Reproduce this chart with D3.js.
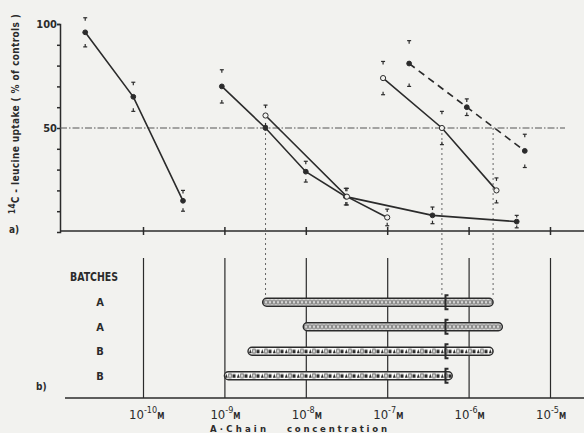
<!DOCTYPE html>
<html>
<head>
<meta charset="utf-8">
<script src="https://cdn.jsdelivr.net/npm/d3@7"></script>
<style>
  body { margin: 0; background: #f2f2ef; }
  svg { display: block; font-family: "DejaVu Sans Condensed", "Liberation Sans Narrow", "DejaVu Sans", sans-serif; font-weight: bold; }
</style>
</head>
<body>
<div id="chart"></div>
<script>
// a) 14C-leucine uptake (% of controls) vs A-chain concentration (M); e = error half-length
var seriesA = [
    { c: 1.95e-11, v: 96, e: 7 },
    { c: 7.6e-11, v: 65, e: 7 },
    { c: 3.1e-10, v: 15, e: 5 }
]
var seriesB = [
    { c: 9.3e-10, v: 70, e: 8 },
    { c: 3.2e-9, v: 50, e: 0 },
    { c: 1.0e-8, v: 29, e: 5 },
    { c: 3.1e-8, v: 17, e: 4 },
    { c: 3.6e-7, v: 8, e: 4 },
    { c: 3.9e-6, v: 5, e: 3 }
]
var seriesC = [
    { c: 3.2e-9, v: 56, e: 5 },
    { c: 3.2e-8, v: 17, e: 4 },
    { c: 1.0e-7, v: 7, e: 4 }
]
var seriesD = [
    { c: 8.9e-8, v: 74, e: 8 },
    { c: 4.7e-7, v: 50, e: 8 },
    { c: 2.2e-6, v: 20, e: 6 }
]
var seriesE = [
    { c: 1.86e-7, v: 81, e: 11 },
    { c: 9.5e-7, v: 60, e: 4 },
    { c: 4.9e-6, v: 39, e: 8 }
]

// 50% read-offs, dropped to the batch row they point at
var ic50 = [
    { c: 3.2e-9, row: 0 },
    { c: 4.7e-7, row: 0 },
    { c: 2.0e-6, row: 0 }
]

// b) active concentration ranges per batch
var batches = ["A", "A", "B", "B"]
var rangeLo = [2.95e-9, 9.3e-9, 1.95e-9, 1.0e-9]
var rangeHi = [2.0e-6, 2.6e-6, 2.0e-6, 6.3e-7]
var bracketAt = 5.2e-7

var decades = [1e-10, 1e-9, 1e-8, 1e-7, 1e-6, 1e-5]
var exps = [-10, -9, -8, -7, -6, -5]
var yTicks = [10, 20, 30, 40, 50, 60, 70, 80, 90, 100]

const ink = "#2b2b2b"

var svg = d3.select("#chart")
    .append("svg")
    .attr("width", 584)
    .attr("height", 433)

const x = d3.scaleLog().domain([1e-10, 1e-5]).range([143, 550])
const y = d3.scaleLinear().domain([0, 100]).range([232, 24])
const row = d3.scaleBand().domain(d3.range(batches.length)).range([290, 388])

// ---- panel a ----
// x axis of top panel
svg.append("line")
    .attr("x1", 60).attr("x2", 584)
    .attr("y1", 231).attr("y2", 231)
    .attr("stroke", ink).attr("stroke-width", 1.5)

var topAxis = svg.append("g")
    .attr("transform", "translate(0,231)")
    .call(d3.axisBottom(x).tickValues(decades).tickFormat("").tickSize(4))
topAxis.select(".domain").remove()
topAxis.selectAll(".tick line").attr("y1", -4).attr("stroke", ink).attr("stroke-width", 1.5)

var leftAxis = svg.append("g")
    .attr("transform", "translate(60,0)")
    .call(d3.axisLeft(y).tickValues(yTicks).tickSize(3)
        .tickFormat(d => (d == 50 || d == 100) ? d : ""))
leftAxis.select(".domain").attr("stroke", ink).attr("stroke-width", 1.5)
leftAxis.selectAll(".tick line").attr("stroke", ink).attr("stroke-width", 1.5)
leftAxis.selectAll("text")
    .attr("font-size", 11).attr("font-weight", "bold").attr("fill", ink)
    .attr("font-family", "DejaVu Sans Condensed, sans-serif").attr("x", -3)

// 50% reference line
svg.append("line")
    .attr("x1", 60).attr("x2", 565)
    .attr("y1", y(50)).attr("y2", y(50))
    .attr("stroke", "#555").attr("stroke-width", 1)
    .attr("stroke-dasharray", "7,2,1.5,2")

// dotted drop lines
svg.append("g")
    .selectAll("line")
    .data(ic50)
    .enter().append("line")
    .attr("x1", d => x(d.c)).attr("x2", d => x(d.c))
    .attr("y1", y(50))
    .attr("y2", d => row(d.row) + row.bandwidth() / 2 - 4)
    .attr("stroke", "#666").attr("stroke-width", 1)
    .attr("stroke-dasharray", "2,3")

const line = d3.line()
    .x(d => x(d.c))
    .y(d => y(d.v))

function drawSeries(data, open, dashed) {
    svg.append("path")
        .datum(data)
        .attr("fill", "none")
        .attr("stroke", ink)
        .attr("stroke-width", 1.6)
        .attr("stroke-dasharray", dashed ? "7,5" : null)
        .attr("d", line)

    var eb = svg.append("g")
        .selectAll("g")
        .data(data.filter(d => d.e > 0))
        .enter().append("g")
        .attr("stroke", ink).attr("stroke-width", 1.2)
    eb.append("line")
        .attr("x1", d => x(d.c)).attr("x2", d => x(d.c))
        .attr("y1", d => y(d.v + d.e)).attr("y2", d => Math.min(y(d.v) - 4, y(d.v + d.e) + 3))
    eb.append("line")
        .attr("x1", d => x(d.c)).attr("x2", d => x(d.c))
        .attr("y1", d => y(d.v - d.e)).attr("y2", d => Math.max(y(d.v) + 4, y(d.v - d.e) - 3))
    eb.append("line")
        .attr("x1", d => x(d.c) - 2).attr("x2", d => x(d.c) + 2)
        .attr("y1", d => y(d.v + d.e)).attr("y2", d => y(d.v + d.e))
    eb.append("line")
        .attr("x1", d => x(d.c) - 2).attr("x2", d => x(d.c) + 2)
        .attr("y1", d => y(d.v - d.e)).attr("y2", d => y(d.v - d.e))

    svg.append("g")
        .selectAll("circle")
        .data(data)
        .enter().append("circle")
        .attr("cx", d => x(d.c))
        .attr("cy", d => y(d.v))
        .attr("r", open ? 2.6 : 2.4)
        .attr("fill", open ? "#f2f2ef" : ink)
        .attr("stroke", ink).attr("stroke-width", 1)
}

drawSeries(seriesA, false, false)
drawSeries(seriesB, false, false)
drawSeries(seriesC, true, false)
drawSeries(seriesD, true, false)
drawSeries(seriesE, false, true)

// y title
svg.append("text")
    .attr("transform", "translate(19,114) rotate(-90)")
    .attr("text-anchor", "middle")
    .attr("font-size", 10)
    .attr("fill", ink)
    .attr("textLength", 200)
    .attr("lengthAdjust", "spacing")
    .call(t => {
        t.append("tspan").attr("font-size", 8).attr("dy", -4).text("14")
        t.append("tspan").attr("dy", 4).text("C - leucine uptake ( % of controls )")
    })

svg.append("text").attr("x", 9).attr("y", 233).attr("font-size", 10).attr("fill", ink).text("a)")

// ---- panel b ----
var grid = svg.append("g")
    .attr("transform", "translate(0,398)")
    .call(d3.axisBottom(x).tickValues(decades).tickFormat("").tickSize(-140))
grid.select(".domain").remove()
grid.selectAll(".tick line").attr("stroke", ink).attr("stroke-width", 1.2)

svg.append("line")
    .attr("x1", 65).attr("x2", 584)
    .attr("y1", 398).attr("y2", 398)
    .attr("stroke", ink).attr("stroke-width", 1.6)

var labels = svg.append("g")
    .selectAll("text")
    .data(exps)
    .enter().append("text")
    .attr("x", (d, i) => x(decades[i]) - 14)
    .attr("y", 419)
    .attr("fill", ink)
    .attr("font-weight", "normal")
    .attr("font-size", 13)
labels.append("tspan").text("10")
labels.append("tspan").attr("font-size", 9).attr("dy", -6).text(d => "-" + Math.abs(d))
labels.append("tspan").attr("font-size", 8).attr("font-weight", "bold").attr("dy", 6).text("M")

svg.append("text").attr("x", 210).attr("y", 432).attr("font-size", 9.5).attr("fill", ink)
    .attr("textLength", 56).attr("lengthAdjust", "spacing").text("A·Chain")
svg.append("text").attr("x", 287).attr("y", 432).attr("font-size", 9.5).attr("fill", ink)
    .attr("textLength", 100).attr("lengthAdjust", "spacing").text("concentration")

svg.append("text").attr("x", 70).attr("y", 281).attr("font-size", 12).attr("fill", ink)
    .attr("textLength", 48).attr("lengthAdjust", "spacingAndGlyphs").text("BATCHES")

svg.append("text").attr("x", 36).attr("y", 390).attr("font-size", 10).attr("fill", ink).text("b)")

svg.append("g")
    .selectAll("text")
    .data(batches)
    .enter().append("text")
    .attr("x", 100)
    .attr("y", (d, i) => row(i) + row.bandwidth() / 2 + 4)
    .attr("text-anchor", "middle")
    .attr("font-size", 11)
    .attr("fill", ink)
    .text(d => d)

// bar fill patterns, one per row so the tiles line up with the bar
var defs = svg.append("defs")
batches.forEach(function (b, i) {
    var top = row(i) + row.bandwidth() / 2 - 4
    var p = defs.append("pattern")
        .attr("id", "pat" + i)
        .attr("patternUnits", "userSpaceOnUse")
        .attr("x", 0).attr("y", top)
        .attr("width", b == "A" ? 4 : 12).attr("height", 8)
    p.append("rect").attr("width", 12).attr("height", 8).attr("fill", "#fafaf8")
    if (b == "A") {
        p.append("rect").attr("x", 0.8).attr("y", 2).attr("width", 2.4).attr("height", 4)
            .attr("fill", "none").attr("stroke", "#444").attr("stroke-width", 0.8)
    } else {
        p.append("rect").attr("x", 0.8).attr("y", 2).attr("width", 2.4).attr("height", 4)
            .attr("fill", "none").attr("stroke", "#444").attr("stroke-width", 0.8)
        p.append("rect").attr("x", 4.5).attr("y", 2.5).attr("width", 3).attr("height", 3.5).attr("fill", ink)
        p.append("path").attr("d", "M8.8,6 L10.3,2 L11.8,6 Z").attr("fill", ink)
    }
})

svg.append("g")
    .selectAll("rect")
    .data(batches)
    .enter().append("rect")
    .attr("x", (d, i) => x(rangeLo[i]))
    .attr("y", (d, i) => row(i) + row.bandwidth() / 2 - 4)
    .attr("width", (d, i) => x(rangeHi[i]) - x(rangeLo[i]))
    .attr("height", 8)
    .attr("rx", 4)
    .attr("fill", (d, i) => "url(#pat" + i + ")")
    .attr("stroke", ink)
    .attr("stroke-width", 1.4)

// "[" marks at the common 50% point
svg.append("g")
    .selectAll("path")
    .data(batches)
    .enter().append("path")
    .attr("d", (d, i) => {
        var cx = x(bracketAt), cy = row(i) + row.bandwidth() / 2
        return "M" + (cx + 3) + "," + (cy - 7) + " L" + cx + "," + (cy - 7) +
            " L" + cx + "," + (cy + 7) + " L" + (cx + 3) + "," + (cy + 7)
    })
    .attr("fill", "none")
    .attr("stroke", ink)
    .attr("stroke-width", 2)
</script>
</body>
</html>
